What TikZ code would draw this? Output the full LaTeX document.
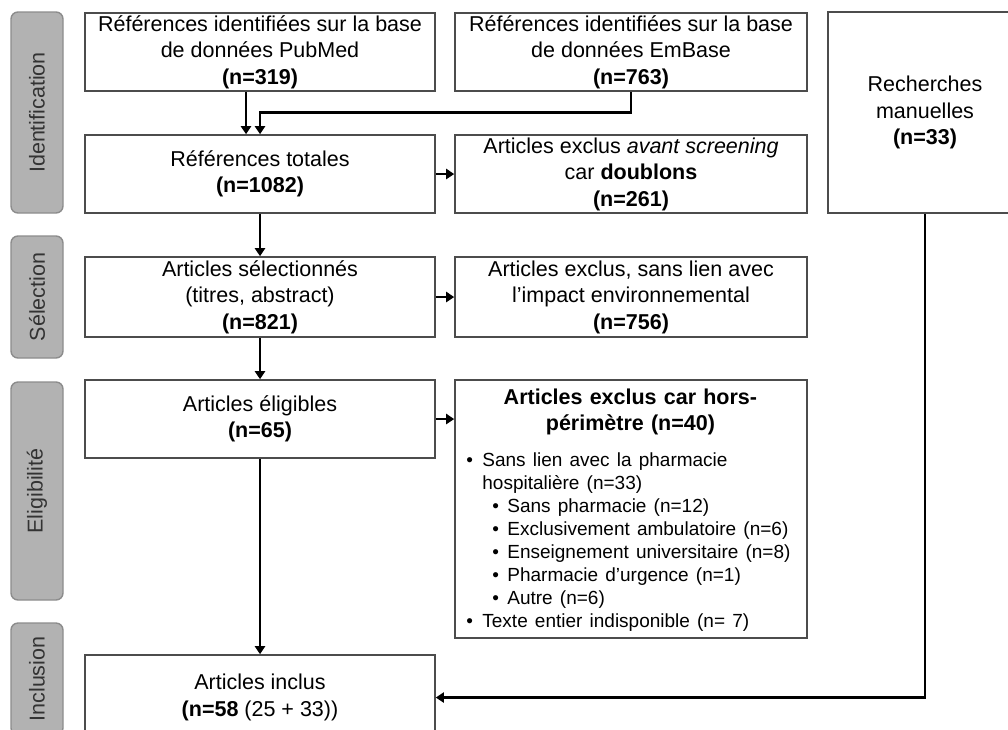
\documentclass[tikz,border=0pt]{standalone}
\usepackage{fontspec}
\setmainfont{Liberation Sans}
\usetikzlibrary{arrows.meta,calc}
\newcommand{\puce}[1]{\hspace*{#1}\makebox[15pt][l]{•}}
\tikzset{
    boite/.style={draw=black!70, line width=1.6pt, fill=white, align=center, inner sep=0pt},
    phase/.style={draw=black!45, fill=black!30, rounded corners=7pt, line width=1.4pt,
        rotate=90, minimum height=52pt, text=black!80, inner sep=0pt},
    fleche/.style={line width=2.6pt, -{Triangle[length=8pt,width=10pt]}}
}

\begin{document}
\begin{tikzpicture}[x=1pt, y=-1pt, font=\fontsize{21.5}{26.5}\selectfont]
    \useasboundingbox (0,0) rectangle (1008,729);
    \clip (0,0) rectangle (1008,729);

    % Phases
    \node[phase, minimum width=201pt] (ident) at (37,112.5) {Identification};
    \node[phase, minimum width=122pt] (selec) at (37,297) {Sélection};
    \node[phase, minimum width=218pt] (eligi) at (37,491) {Eligibilité};
    \node[phase, minimum width=112pt] (inclu) at (37,679) {Inclusion};

    % Identification
    \node[boite, minimum width=350pt, minimum height=78pt] (pubmed) at (260,52)
        {Références identifiées sur la base\\de données PubMed\\\textbf{(n=319)}};
    \node[boite, minimum width=352pt, minimum height=78pt] (embase) at (631,52)
        {Références identifiées sur la base\\de données EmBase\\\textbf{(n=763)}};
    \node[boite, minimum width=194pt, minimum height=201pt] (recherches) at (925,112.5)
        {Recherches\\manuelles\\\textbf{(n=33)}};
    \node[boite, minimum width=350pt, minimum height=78pt] (totales) at (260,174)
        {Références totales\\\textbf{(n=1082)}};
    \node[boite, minimum width=352pt, minimum height=78pt] (doublons) at (631,174)
        {Articles exclus \textit{avant screening}\\car \textbf{doublons}\\\textbf{(n=261)}};

    % Selection
    \node[boite, minimum width=350pt, minimum height=80pt] (selection) at (260,297)
        {Articles sélectionnés\\(titres, abstract)\\\textbf{(n=821)}};
    \node[boite, minimum width=352pt, minimum height=80pt] (exclus) at (631,297)
        {Articles exclus, sans lien avec\\l’impact environnemental\\\textbf{(n=756)}};

    % Eligibilite
    \node[boite, minimum width=350pt, minimum height=78pt] (eligibles) at (260,419)
        {Articles éligibles\\\textbf{(n=65)}};
    \node[boite, minimum width=352pt, minimum height=258pt] (hors) at (631,509) {};
    \node[anchor=north west, text width=352pt, inner sep=0pt, align=left, yshift=-9.5pt]
        (horstxt) at (hors.north west) {%
        {\centering\bfseries Articles exclus car hors-\\périmètre (n=40)\par}
        \vspace{12pt}
        {\fontsize{19}{23.1}\selectfont
        \puce{12pt}\hspace{1pt}Sans lien avec la pharmacie\\
        \hspace*{28pt}hospitalière (n=33)\\
        \puce{38pt}Sans pharmacie (n=12)\\
        \puce{38pt}Exclusivement ambulatoire (n=6)\\
        \puce{38pt}Enseignement universitaire (n=8)\\
        \puce{38pt}Pharmacie d’urgence (n=1)\\
        \puce{38pt}Autre (n=6)\\
        \puce{12pt}\hspace{1pt}Texte entier indisponible (n= 7)\par}};

    % Inclusion
    \node[boite, minimum width=350pt, minimum height=85pt] (inclus) at (260,697.5)
        {Articles inclus\\\textbf{(n=58} (25 + 33))};

    % Connecteurs
    \draw[fleche] ([xshift=-14pt]pubmed.south) -- ([xshift=-14pt]totales.north);
    \draw[fleche] (embase.south) |- ($(totales.north)+(0,-22)$) -- (totales.north);
    \draw[fleche] (totales.east) -- (doublons.west);
    \draw[fleche] (totales.south) -- (selection.north);
    \draw[fleche] (selection.east) -- (exclus.west);
    \draw[fleche] (selection.south) -- (eligibles.north);
    \draw[fleche] (eligibles.east) -- (eligibles.east -| hors.west);
    \draw[fleche] (eligibles.south) -- (inclus.north);
    \draw[fleche] (recherches.south) |- (inclus.east);
\end{tikzpicture}
\end{document}
